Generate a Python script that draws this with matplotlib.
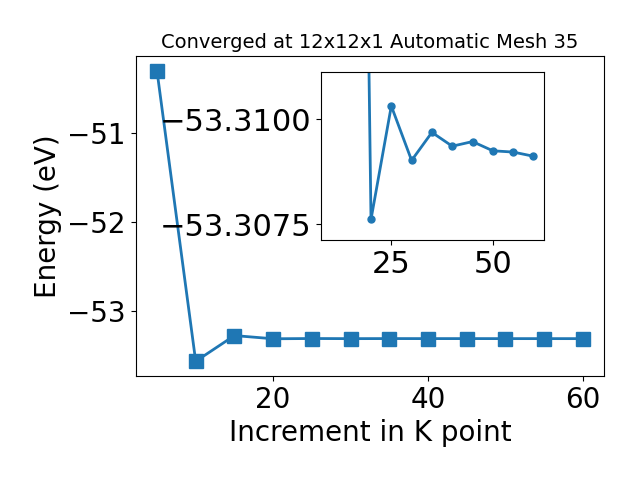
import matplotlib
matplotlib.use("Agg")
import matplotlib.pyplot as plt

# Main data
kpoints = [5, 10, 15, 20, 25, 30, 35, 40, 45, 50, 55, 60]
energy_main = [-50.30, -53.563, -53.274, -53.3099, -53.3072, -53.3085, -53.3078,
               -53.3081, -53.3080, -53.3083, -53.3083, -53.3084]

# Inset data (zoom of the converged region)
inset_k = [15, 20, 25, 30, 35, 40, 45, 50, 55, 60]
inset_energy = [-53.274, -53.30989, -53.30718, -53.30848, -53.30781, -53.30814,
                -53.30803, -53.30825, -53.30828, -53.30838]
inset_ytick_values = [-53.3075, -53.3100]
inset_ytick_labels = ["\u221253.3100", "\u221253.3075"]
inset_xticks = [25, 50]

title = "Converged at 12x12x1 Automatic Mesh 35"
color = "#1f77b4"

fig = plt.figure(figsize=(6.4, 4.8), dpi=100)
ax = fig.add_axes([0.212, 0.217, 0.732, 0.666])
ax.plot(kpoints, energy_main, marker="s", markersize=10, linewidth=2, color=color)
ax.set_xlabel("Increment in K point", fontsize=20)
ax.set_ylabel("Energy (eV)", fontsize=20)
ax.set_title(title, fontsize=14)
ax.tick_params(labelsize=20)
ax.set_xticks([20, 40, 60])
ax.set_yticks([-51, -52, -53])

axins = fig.add_axes([0.501, 0.5, 0.349, 0.349])
axins.plot(inset_k, inset_energy, marker="o", markersize=5, linewidth=2, color=color)
axins.set_xlim(7.6, 62.6)
axins.set_ylim(-53.31038, -53.30638)
axins.set_xticks(inset_xticks)
axins.set_yticks(inset_ytick_values)
axins.set_yticklabels(inset_ytick_labels)
axins.tick_params(labelsize=22)

fig.savefig("out.png", dpi=100)
